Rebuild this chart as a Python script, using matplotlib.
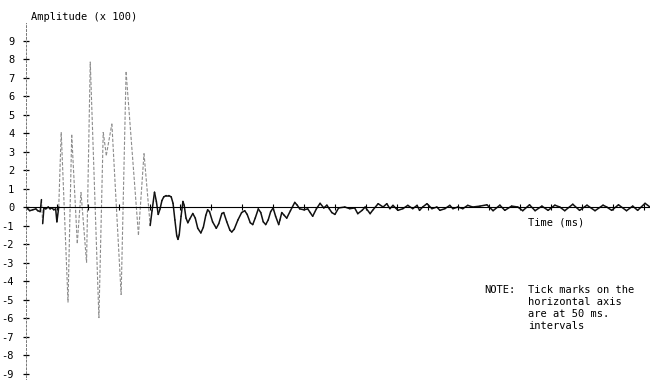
import matplotlib
matplotlib.use("Agg")
import matplotlib.pyplot as plt
from matplotlib.collections import LineCollection
import numpy

# recorded trace: time in ms, amplitude in units of 100
time_ms = [0, 3, 6, 11, 16, 19, 23, 25, 27, 29, 32, 36, 39, 42, 45, 48, 50, 53,
           57, 68, 74, 83, 89, 98, 104, 118, 125, 130, 139, 154, 162, 182, 191,
           201, 204, 208, 211, 214, 217, 220, 223, 227, 231, 235, 238, 241, 244,
           246, 248, 251, 254, 256, 259, 262, 265, 270, 274, 278, 283, 287, 291,
           294, 297, 302, 308, 312, 317, 320, 325, 330, 333, 337, 343, 349, 354,
           358, 363, 367, 371, 376, 380, 384, 388, 392, 396, 400, 404, 409, 411,
           414, 418, 422, 428, 435, 439, 443, 450, 456, 460, 464, 470,
           476, 482, 487, 491, 495, 500, 506, 516, 524, 532, 537, 544, 549, 557,
           561, 570, 578, 584, 589, 594, 602, 610, 618, 626, 633, 637, 642, 649,
           657, 665, 670, 678, 686, 691, 699, 707, 715, 723, 735, 746, 756, 767,
           775, 786, 796, 804, 815, 824, 835, 845, 856, 864, 872, 885, 896, 908,
           921, 934, 940, 948, 959, 972, 982, 990, 1002, 1010]
amplitude = [0.0, -0.1, -0.2, -0.15, -0.1, -0.2, -0.25, 0.4, -0.9, -0.05, -0.1,
             0.0, -0.1, -0.05, -0.15, -0.1, -0.8, 0.0,
             4.05, -5.15, 3.9, -1.95, 0.8, -3.0, 7.85, -6.0, 4.05, 2.8, 4.5,
             -4.75, 7.3, -1.5, 2.9,
             -1.0, -0.2, 0.8, 0.3, -0.4, -0.1, 0.35, 0.55, 0.62, 0.62, 0.55, 0.2,
             -0.7, -1.55,
             -1.75, -1.5, -0.5, 0.3, 0.1, -0.6, -0.85, -0.65, -0.35, -0.6, -1.15,
             -1.4, -1.1, -0.45,
             -0.15, -0.25, -0.8, -1.15, -0.9, -0.35, -0.3, -0.8, -1.25, -1.35,
             -1.2, -0.7, -0.3, -0.2,
             -0.4, -0.85, -0.95, -0.6, -0.1, -0.3, -0.8, -0.95, -0.7, -0.25,
             -0.05, -0.5, -0.95, -0.7,
             -0.3, -0.45, -0.6, -0.2, 0.25, 0.1, -0.1, -0.15, -0.1, -0.3, -0.5,
             -0.1,
             0.2, -0.05, 0.1, -0.1, -0.3, -0.4, -0.05, 0.0, -0.09, -0.05, -0.36,
             -0.18, 0.0, -0.36,
             -0.18, 0.18, 0.0, 0.18, -0.09, 0.09, -0.18, -0.09, 0.09, -0.09,
             0.09, -0.18, 0.0, 0.18,
             -0.09, 0.0, -0.18, -0.09, 0.09, -0.09, 0.0, -0.09, 0.09, 0.0, 0.05,
             0.12, -0.2, 0.1,
             -0.18, 0.05, 0.0, -0.2, 0.12, -0.2, 0.05, -0.18, 0.1, 0.0, -0.2,
             0.15, -0.18, 0.1,
             -0.2, 0.1, 0.0, -0.18, 0.12, -0.2, 0.05, -0.18, 0.2, 0.0]

y_ticks = list(range(-9, 10))
y_tick_labels = [str(v) for v in y_ticks]
x_tick_step = 50
x_end = 1010

y_title = "Amplitude (x 100)"
x_title = "Time (ms)"
note_head = "NOTE:"
note_lines = ["Tick marks on the", "horizontal axis", "are at 50 ms.", "intervals"]


def plot_trace(ax, t, amp):
    t = numpy.asarray(t, dtype=float)
    amp = numpy.asarray(amp, dtype=float)
    pts = numpy.column_stack([t, amp])
    segs = numpy.stack([pts[:-1], pts[1:]], axis=1)

    # the big swings were drawn fast, so the pen left a faint broken stroke
    fast = numpy.abs(numpy.diff(amp)) > 1.2

    ax.add_collection(LineCollection(segs[fast], colors='#8c8c8c',
                                     linewidths=0.8, linestyles=(0, (3, 1.5))))
    ax.add_collection(LineCollection(segs[~fast], colors='#111111',
                                     linewidths=1.1, capstyle='round',
                                     joinstyle='round'))


def setup_axes(ax):
    ax.set_xlim(0, x_end)
    ax.set_ylim(-9.35, 11.19)

    ax.spines['top'].set_visible(False)
    ax.spines['right'].set_visible(False)
    ax.spines['bottom'].set_position(('data', 0))
    ax.spines['bottom'].set_linewidth(0.8)
    ax.spines['left'].set_bounds(-9.45, 9.95)
    ax.spines['left'].set_linestyle((0, (2, 2)))
    ax.spines['left'].set_color('#777777')
    ax.spines['left'].set_linewidth(0.7)

    ax.set_yticks(y_ticks)
    ax.set_yticklabels(y_tick_labels)
    ax.tick_params(axis='y', direction='inout', length=5, width=0.9,
                   pad=6, labelsize=7.5)

    ax.set_xticks(numpy.arange(x_tick_step, x_end, x_tick_step))
    ax.tick_params(axis='x', direction='inout', length=4, width=0.8,
                   labelbottom=False)

    ax.text(8, 10.27, y_title, fontsize=7.5, va='center', ha='left',
            clip_on=False)
    ax.text(812, -0.86, x_title, fontsize=7.5, va='center', ha='left')
    ax.text(741, -4.49, note_head, fontsize=7.5, va='center', ha='left')
    ax.text(812, -4.49 + 0.3, "\n".join(note_lines), fontsize=7.5,
            va='top', ha='left', linespacing=1.25)


def main():
    plt.rcParams['font.family'] = ['DejaVu Sans Mono']

    fig = plt.figure(figsize=(6.5, 3.8), dpi=100)
    ax = fig.add_axes([26 / 650, 0, 624 / 650, 1])

    setup_axes(ax)
    plot_trace(ax, time_ms, amplitude)

    fig.savefig("out.png", dpi=100)


if __name__ == "__main__":
    main()
